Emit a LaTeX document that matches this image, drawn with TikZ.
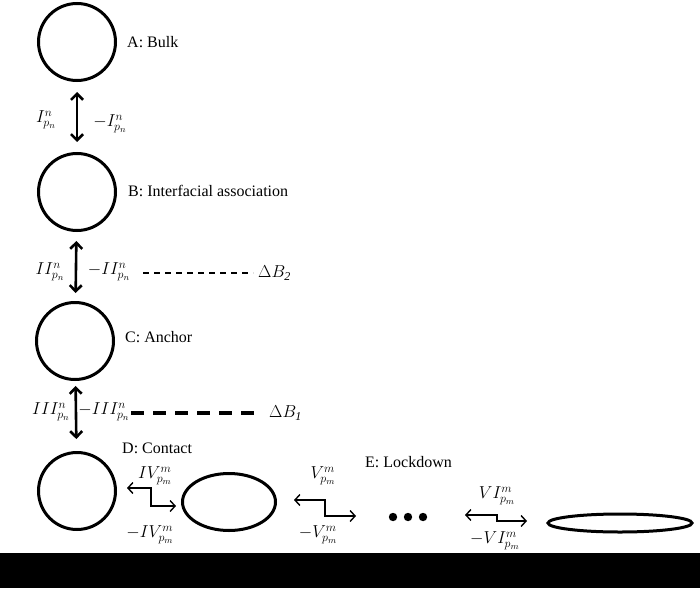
\documentclass[tikz,border=0pt]{standalone}
\usepackage{fontspec}
\setmainfont{Liberation Serif}
\DeclareMathSizes{17}{17}{12}{9.5}
\usetikzlibrary{arrows.meta,shapes.geometric}
\begin{document}
\begin{tikzpicture}[x=1pt,y=-1pt,
  state/.style={draw,circle,line width=3pt,minimum size=77pt,inner sep=0pt},
  lbl/.style={font=\fontsize{16}{18}\selectfont,anchor=west,inner sep=0pt},
  mlbl/.style={font=\fontsize{17}{19}\selectfont,inner sep=0pt},
  dbl/.style={line width=2.6pt,{Straight Barb[length=6pt,width=12pt,line width=2.6pt]}-{Straight Barb[length=6pt,width=12pt,line width=2.6pt]}},
  zz/.style={line width=1.4pt,{Straight Barb[length=5pt,width=11pt]}-{Straight Barb[length=5pt,width=11pt]}},
  thin dash/.style={line width=1.8pt,dash pattern=on 6pt off 5pt},
  thick dash/.style={line width=4pt,dash pattern=on 13pt off 9pt}]
\useasboundingbox (0,0) rectangle (700,588);
% states
\node[state] (A) at (77,42) {};
\node[state] (B) at (77,192) {};
\node[state] (C) at (75,341) {};
\node[state] (D) at (77,491) {};
\node[draw,ellipse,line width=3pt,minimum width=93pt,minimum height=57pt,inner sep=0pt] (E1) at (229,502) {};
\node[draw,ellipse,line width=3pt,minimum width=144pt,minimum height=18pt,inner sep=0pt] (E2) at (620,523) {};
% labels
\node[lbl] (lA) at (127,42) {A: Bulk};
\node[lbl] (lB) at (128,191) {B: Interfacial association};
\node[lbl] (lC) at (125,337) {C: Anchor};
\node[lbl] (lD) at (122,448) {D: Contact};
\node[lbl] (lE) at (365,462) {E: Lockdown};
% vertical transitions
\draw[dbl,shorten <=10pt,shorten >=10pt] (A) -- (B);
\draw[dbl,shorten <=9pt,shorten >=8pt] (B) -- (C);
\draw[dbl,shorten <=5pt,shorten >=12pt] (C) -- (D);
\node[mlbl] (i1) at (46,120) {$I^{n}_{p_n}$};
\node[mlbl] (i2) at (110,124) {$-I^{n}_{p_n}$};
\node[mlbl] (ii1) at (50,272) {$II^{n}_{p_n}$};
\node[mlbl] (ii2) at (109,272) {$-II^{n}_{p_n}$};
\node[mlbl] (iii1) at (51,412) {$III^{n}_{p_n}$};
\node[mlbl] (iii2) at (104,412) {$-III^{n}_{p_n}$};
% energy levels
\coordinate (b2s) at (143,273);
\node[mlbl,anchor=west] (dB2) at (258,273) {$\Delta B_{\mathit2}$};
\draw[thin dash] (b2s) -- ([xshift=-5pt]dB2.west);
\coordinate (b1s) at (131,413);
\node[mlbl,anchor=west] (dB1) at (269,413) {$\Delta B_{\mathit1}$};
\draw[thick dash] (b1s) -- ([xshift=-8pt]dB1.west);
% zigzag transitions
\coordinate (z4a) at (127,488); \coordinate (z4b) at (151,488);
\coordinate (z4c) at (151,506); \coordinate (z4d) at (176,506);
\draw[zz] (z4a) -- (z4b) -- (z4c) -- (z4d);
\node[mlbl] (iv1) at (155,476) {$IV^{m}_{p_m}$};
\node[mlbl] (iv2) at (150,535) {$-IV^{m}_{p_m}$};
\coordinate (z5a) at (294,500); \coordinate (z5b) at (325,500);
\coordinate (z5c) at (325,516); \coordinate (z5d) at (356,516);
\draw[zz] (z5a) -- (z5b) -- (z5c) -- (z5d);
\node[mlbl] (v1) at (323,476) {$V^{m}_{p_m}$};
\node[mlbl] (v2) at (318,535) {$-V^{m}_{p_m}$};
\coordinate (z6a) at (465,515); \coordinate (z6b) at (497,515);
\coordinate (z6c) at (497,521); \coordinate (z6d) at (527,521);
\draw[zz] (z6a) -- (z6b) -- (z6c) -- (z6d);
\node[mlbl] (vi1) at (497,496) {$VI^{m}_{p_m}$};
\node[mlbl] (vi2) at (495,541) {$-VI^{m}_{p_m}$};
% dots
\fill (393,517) circle (4.2pt);
\fill (408,517) circle (4.2pt);
\fill (423,517) circle (4.2pt);
% surface
\fill (0,553) rectangle (700,588);
\end{tikzpicture}
\end{document}
